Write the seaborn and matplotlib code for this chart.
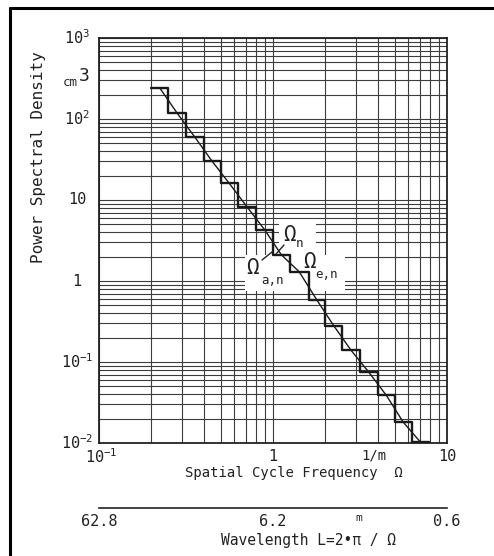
"""Road profile power spectral density in third-octave bands (log-log chart)."""

import matplotlib
matplotlib.use("Agg")
import matplotlib.pyplot as plt
from matplotlib.lines import Line2D
from matplotlib.patches import Rectangle
from matplotlib.ticker import NullFormatter
import numpy as np
import seaborn as sns


# third-octave band edges of spatial cycle frequency (1/m)
band_edges = [0.2, 0.25, 0.315, 0.4, 0.5, 0.63, 0.8, 1.0, 1.25, 1.6, 2.0, 2.5, 3.15, 4.0, 5.0, 6.3, 7.9]
# band-averaged power spectral density (cm^3)
band_psd = [241, 119, 60, 30, 16, 8.2, 4.3, 2.1, 1.3, 0.58, 0.28, 0.14, 0.075, 0.039, 0.018, 0.0102]

psd_ticks = [1e3, 1e2, 10, 1, 1e-1, 1e-2]
psd_tick_labels = [r"$10^{3}$", r"$10^{2}$", "10", "1", r"$10^{-1}$", r"$10^{-2}$"]
freq_ticks = [0.1, 1, 10]
freq_tick_labels = [r"$10^{-1}$", "1", "10"]

wavelength_minor = [50, 40, 30, 20, 10, 5, 4, 3, 2, 1, 0.9, 0.8, 0.7]
wavelength_major = [62.8, 6.28, 0.628]
wavelength_labels = ["62.8", "6.2", "0.6"]

# band frequency labels: (symbol position, subscript, subscript position) in pixels
omega_labels = [
    ((290, 235), "n", (299, 244)),
    ((253, 268), "a,n", (272, 281)),
    ((310, 262), "e,n", (326, 275)),
]

FIG_W, FIG_H = 494, 556


def fx(px):
    return px / FIG_W


def fy(py):
    return 1 - py / FIG_H


sns.set_theme(style="white")
plt.rcParams["font.family"] = ["DejaVu Sans Mono", "DejaVu Sans"]
plt.rcParams["mathtext.fontset"] = "custom"
plt.rcParams["mathtext.rm"] = "DejaVu Sans Mono"
plt.rcParams["mathtext.it"] = "DejaVu Sans Mono"
plt.rcParams["mathtext.default"] = "rm"

fig = plt.figure(figsize=(FIG_W / 100, FIG_H / 100), dpi=100)
fig.patch.set_facecolor("white")

# outer frame (top and left edge of the scanned page)
fig.add_artist(Line2D([fx(10), 1.0], [fy(8), fy(8)], color="black", lw=2.2))
fig.add_artist(Line2D([fx(10), fx(10)], [fy(8), 0.0], color="black", lw=2.2))

ax = fig.add_axes([fx(99), fy(443), fx(447) - fx(99), fy(38) - fy(443)])
ax.set_xscale("log")
ax.set_yscale("log")
ax.set_xlim(0.1, 10)
ax.set_ylim(1e-2, 1e3)
ax.grid(which="both", color="#3c3c3c", lw=0.8)
ax.set_axisbelow(True)
for spine in ax.spines.values():
    spine.set_color("#222222")
    spine.set_linewidth(1.3)
ax.tick_params(which="both", length=0, labelbottom=False, labelleft=False)

step_y = band_psd + [band_psd[-1]]
sns.lineplot(x=band_edges, y=step_y, drawstyle="steps-post", estimator=None, sort=False,
             color="#1a1a1a", lw=1.7, ax=ax, zorder=3)
centers = np.sqrt(np.array(band_edges[:-1]) * np.array(band_edges[1:]))
sns.lineplot(x=centers, y=band_psd, estimator=None, sort=False, color="#1a1a1a", lw=1.0, ax=ax, zorder=3)

# tick labels
ytrans = ax.get_yaxis_transform()
for val, lab in zip(psd_ticks, psd_tick_labels):
    ax.text(-0.063, val, lab, transform=ytrans, ha="center", va="center", fontsize=11, color="#222222")
xtrans = ax.get_xaxis_transform()
for val, lab in zip(freq_ticks, freq_tick_labels):
    xpos = val * 1.03 if val == 0.1 else val
    ax.text(xpos, -0.034, lab, transform=xtrans, ha="center", va="center", fontsize=11, color="#222222")
ax.text(3.8, -0.032, "1/m", transform=xtrans, ha="center", va="center", fontsize=10, color="#222222")

fig.text(fx(70), fy(82), "cm", ha="center", va="center", fontsize=9, color="#222222")
fig.text(fx(84), fy(76), "3", ha="center", va="center", fontsize=13, color="#222222")

fig.text(fx(38), fy(157), "Power Spectral Density", rotation=90, ha="center", va="center",
         fontsize=11.5, color="#222222")
fig.text(fx(294), fy(473), "Spatial Cycle Frequency  Ω", ha="center", va="center",
         fontsize=10, color="#222222")

# white patches cut into the grid behind the band labels
for (x0, y0, x1, y1) in [(245, 255, 345, 291), (279, 222, 316, 250)]:
    ax.add_patch(Rectangle((fx(x0), fy(y1)), fx(x1) - fx(x0), fy(y0) - fy(y1),
                           transform=fig.transFigure, facecolor="white", edgecolor="none", zorder=1.5))

for (sx, sy), sub, (bx, by) in omega_labels:
    ax.text(fx(sx), fy(sy), "Ω", transform=fig.transFigure, fontsize=15, ha="center", va="center",
            color="#222222", zorder=1.6)
    ax.text(fx(bx), fy(by), sub, transform=fig.transFigure, fontsize=9, ha="center", va="center",
            color="#222222", zorder=1.6)
ax.add_line(Line2D([fx(284), fx(276)], [fy(245), fy(254)], transform=fig.transFigure,
                   color="#222222", lw=1.0, zorder=3))
ax.add_line(Line2D([fx(262), fx(272)], [fy(260), fy(252)], transform=fig.transFigure,
                   color="#222222", lw=1.0, zorder=3))

# wavelength scale below
wax = fig.add_axes([fx(99), fy(508), fx(447) - fx(99), 0.02])
wax.set_xscale("log")
wax.set_xlim(0.1, 10)
wax.set_facecolor("none")
for side in ["top", "left", "right"]:
    wax.spines[side].set_visible(False)
wax.spines["bottom"].set_color("#222222")
wax.spines["bottom"].set_linewidth(1.2)
wax.set_yticks([])
wax.set_xticks([2 * np.pi / w for w in wavelength_major])
wax.set_xticks([2 * np.pi / w for w in wavelength_minor], minor=True)
wax.set_xticklabels(wavelength_labels, fontsize=11, color="#222222")
wax.xaxis.set_minor_formatter(NullFormatter())
wax.tick_params(axis="x", which="major", length=3, width=1.0, color="#222222", pad=1)
wax.tick_params(axis="x", which="minor", length=2.5, width=1.0, color="#222222")
wax.text(3.1, -0.9, "m", transform=wax.get_xaxis_transform(), ha="center", va="center",
         fontsize=8, color="#222222")

fig.text(fx(308), fy(540), "Wavelength L=2•π / Ω", ha="center", va="center",
         fontsize=10.5, color="#222222")

fig.savefig("out.png", dpi=100)
